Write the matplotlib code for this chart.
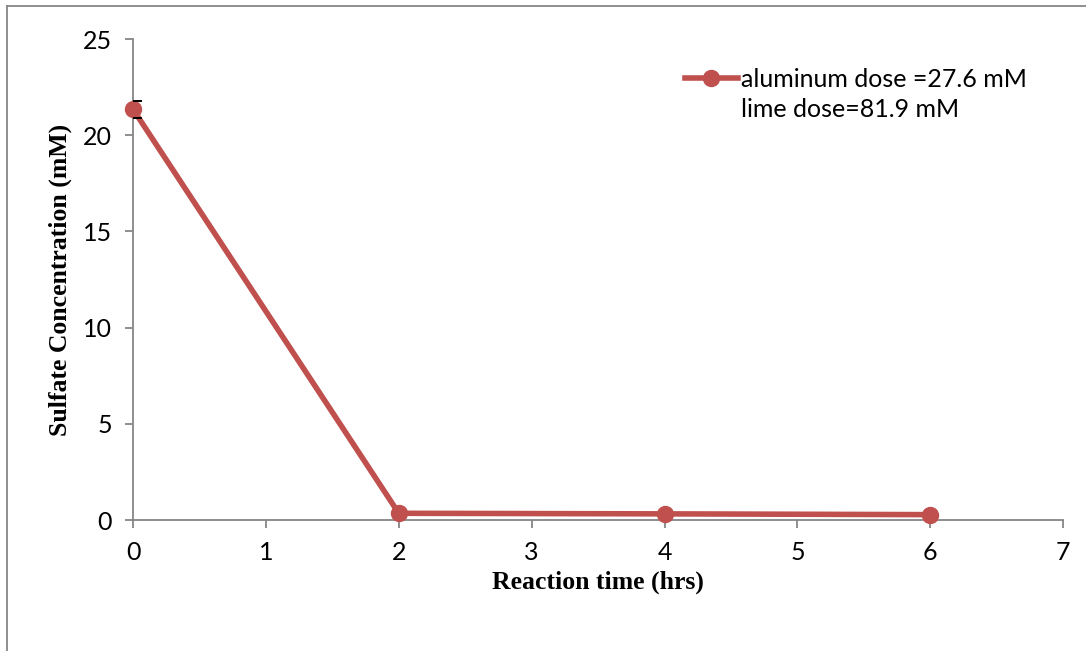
import matplotlib.pyplot as plt
from matplotlib.lines import Line2D

# data
time_hrs = [0, 2, 4, 6]
sulfate_mM = [21.35, 0.35, 0.32, 0.28]
sulfate_err = [0.43, 0, 0, 0]
series_label = "aluminum dose =27.6 mM"
label_line2 = "lime dose=81.9 mM"
x_ticks = [0, 1, 2, 3, 4, 5, 6, 7]
y_ticks = [0, 5, 10, 15, 20, 25]

red = '#C0504D'
grey = '#868686'
tick_font = 'Lato'
label_font = 'Liberation Serif'

fig = plt.figure(figsize=(10.86, 6.51), dpi=100)
ax = fig.add_axes([0.1225, 0.2012, 0.8565, 0.7388])

ax.plot(time_hrs, sulfate_mM, color=red, lw=4, marker='o', ms=11.5,
        label=series_label, zorder=3, clip_on=False)
# only the caps of the error bar show outside the marker
ax.errorbar(time_hrs[:1], sulfate_mM[:1], yerr=sulfate_err[:1], fmt='none',
            ecolor='black', elinewidth=0, capsize=6.5, capthick=1.4, zorder=4)

ax.set_xlim(0, 7)
ax.set_ylim(0, 25)
ax.set_xticks(x_ticks)
ax.set_yticks(y_ticks)

for s in ['top', 'right']:
    ax.spines[s].set_visible(False)
for s in ['left', 'bottom']:
    ax.spines[s].set_color(grey)
    ax.spines[s].set_linewidth(1.3)
ax.tick_params(direction='out', length=6, width=1.3, color=grey,
               labelsize=18, pad=9)
for lab in ax.get_xticklabels() + ax.get_yticklabels():
    lab.set_fontfamily(tick_font)

ax.set_xlabel('Reaction time (hrs)', fontsize=18.5, fontweight='bold',
              fontfamily=label_font, labelpad=5)
ax.set_ylabel('Sulfate Concentration (mM)', fontsize=18.5, fontweight='bold',
              fontfamily=label_font, labelpad=8)

# legend: second line of the label carries no marker
handles = [ax.get_lines()[0], Line2D([], [], color='none')]
ax.legend(handles, [series_label, label_line2], loc='upper left',
          bbox_to_anchor=(0.593, 0.94), frameon=False,
          handlelength=2.15, handletextpad=0.12, labelspacing=0.3,
          borderaxespad=0, borderpad=0,
          prop={'family': tick_font, 'size': 18})

# outer chart border (top and left only, as in the reference)
fig.add_artist(Line2D([0.0065, 1.0], [0.991, 0.991], transform=fig.transFigure,
                      color=grey, lw=1.3))
fig.add_artist(Line2D([0.0065, 0.0065], [0.0, 0.991], transform=fig.transFigure,
                      color=grey, lw=1.3))

fig.savefig('out.png', dpi=100)
